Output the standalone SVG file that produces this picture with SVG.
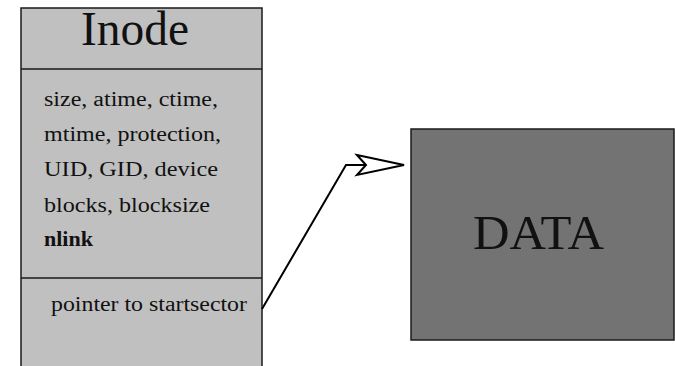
<svg xmlns="http://www.w3.org/2000/svg" width="675" height="366" viewBox="0 0 675 366">
<style>
.box{stroke:#1a1a1a;stroke-width:1.5}
.t{font-family:"Liberation Serif","DejaVu Serif",serif;fill:#111}
.body{font-size:20px}
.big{font-size:48px}
.con{fill:none;stroke:#000;stroke-width:2}
</style>
<rect width="675" height="366" fill="#fff"/>
<g id="inode">
<rect class="box" x="21" y="8" width="241" height="370" fill="#c0c0c0"/>
<line class="box" x1="21" y1="69" x2="262" y2="69"/>
<line class="box" x1="21" y1="278" x2="262" y2="278"/>
<text class="t big" x="81" y="45" textLength="108" lengthAdjust="spacingAndGlyphs">Inode</text>
<text class="t body" x="44" y="106" textLength="174" lengthAdjust="spacingAndGlyphs">size, atime, ctime,</text>
<text class="t body" x="44" y="141" textLength="177" lengthAdjust="spacingAndGlyphs">mtime, protection,</text>
<text class="t body" x="44" y="176" textLength="174" lengthAdjust="spacingAndGlyphs">UID, GID, device</text>
<text class="t body" x="44" y="212" textLength="166" lengthAdjust="spacingAndGlyphs">blocks, blocksize</text>
<text class="t body" x="44" y="246" font-weight="bold" textLength="49" lengthAdjust="spacingAndGlyphs">nlink</text>
<text class="t body" x="51" y="311" textLength="196" lengthAdjust="spacingAndGlyphs">pointer to startsector</text>
</g>
<g id="data">
<rect class="box" x="411" y="129" width="263" height="211" fill="#737373"/>
<text class="t big" x="473" y="249" textLength="131" lengthAdjust="spacingAndGlyphs">DATA</text>
</g>
<g id="connectors">
<polyline class="con" points="262,309 346,165 366,165"/>
<path d="M357,155 L404,165 L357,175 L366,165 Z" fill="#fff" stroke="#000" stroke-width="2" stroke-linejoin="miter"/>
</g>
</svg>
